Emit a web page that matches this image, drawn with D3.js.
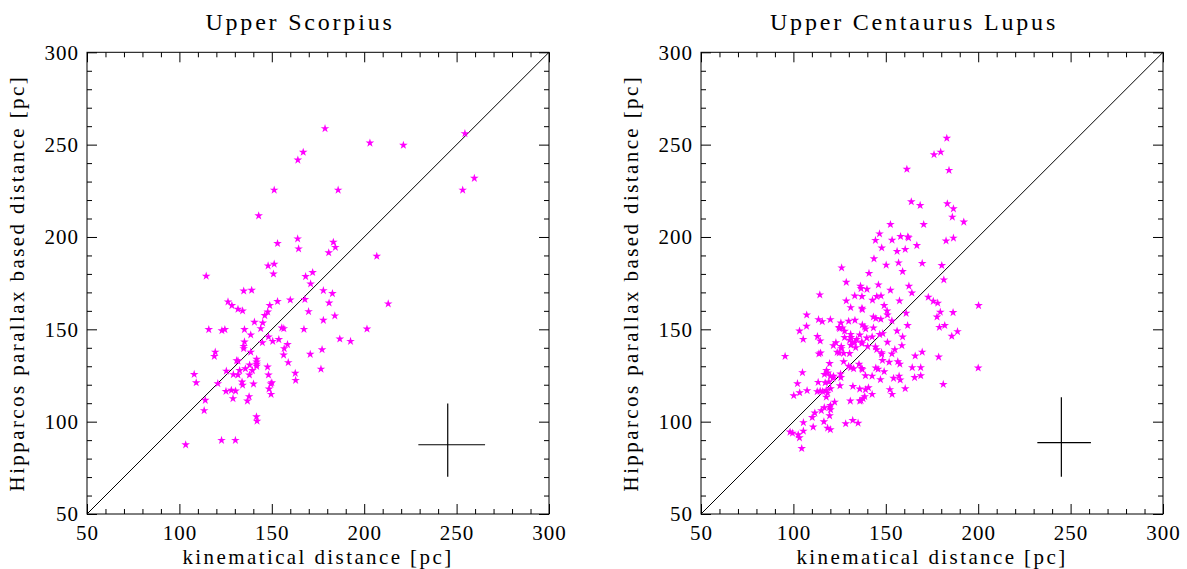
<!DOCTYPE html>
<html>
<head>
<meta charset="utf-8">
<script src="https://cdn.jsdelivr.net/npm/d3@7"></script>
<style>
  body { margin: 0; background: #fff; }
  svg { display: block; }
  text { font-family: "Liberation Serif", "DejaVu Serif", serif; fill: #000; }
</style>
</head>
<body>
<svg id="chart" width="1187" height="569"></svg>
<script>
// Upper Scorpius: kinematical vs Hipparcos distance (pc)
const usKin = [
  167.0, 164.1, 151.3, 142.9, 164.0, 153.1, 164.5, 148.0, 151.3, 150.9,
  114.5, 168.3, 172.1, 171.0, 134.8, 139.1, 126.3, 128.4, 131.7, 134.2,
  148.9, 153.1, 160.0, 167.9, 169.9, 147.8, 146.2, 140.6, 145.1, 144.0,
  155.4, 156.5, 167.4, 115.9, 123.0, 124.6, 135.2, 138.6, 148.2, 153.8,
  150.5, 144.9, 135.2, 158.5, 156.7, 134.8, 134.8, 138.6, 156.4, 170.8,
  119.4, 118.9, 131.0, 131.7, 141.8, 141.8, 141.8, 141.8, 158.9, 135.7,
  138.0, 132.6, 139.5, 125.4, 147.7, 162.7, 129.2, 131.7, 137.9, 148.2,
  108.0, 109.1, 162.9, 150.0, 149.5, 133.9, 134.2, 140.1, 120.8, 148.5,
  125.2, 128.1, 130.4, 149.6, 137.7, 129.0, 136.8, 114.0, 113.4, 141.7,
  142.0, 122.8, 130.3, 103.4, 178.8, 203.1, 221.2, 254.5, 259.6, 253.3,
  185.9, 183.3, 184.4, 180.8, 206.8, 177.9, 182.8, 181.0, 213.0, 177.9,
  184.1, 201.5, 186.8, 192.6, 177.2, 176.6
];
const usHip = [
  245.9, 241.7, 225.4, 211.5, 199.0, 196.5, 193.6, 184.4, 185.3, 180.0,
  178.8, 178.6, 180.8, 174.6, 170.8, 171.2, 164.9, 162.9, 160.9, 160.0,
  162.9, 165.1, 165.9, 166.2, 159.6, 159.4, 157.5, 153.9, 153.5, 150.4,
  150.8, 150.4, 150.0, 149.9, 149.3, 149.9, 149.9, 147.0, 145.9, 144.5,
  143.5, 142.8, 143.2, 141.8, 139.6, 140.8, 139.6, 137.7, 136.1, 136.5,
  137.7, 135.4, 133.1, 132.9, 133.8, 132.3, 131.1, 130.0, 132.0, 128.7,
  130.7, 127.7, 127.7, 127.4, 129.6, 126.2, 125.5, 125.3, 125.3, 125.3,
  125.6, 121.1, 122.4, 121.1, 120.4, 121.5, 119.8, 120.4, 120.6, 117.7,
  116.4, 117.0, 116.6, 114.8, 113.6, 112.5, 111.2, 111.6, 106.0, 102.7,
  100.3, 89.9, 89.9, 87.5, 258.7, 250.9, 249.7, 256.0, 231.8, 225.4,
  225.4, 197.2, 194.4, 191.5, 189.6, 171.0, 169.4, 164.3, 163.8, 154.9,
  157.3, 150.2, 144.8, 143.5, 139.0, 128.5
];

// Upper Centaurus Lupus
const uclKin = [
  183.0, 176.1, 179.7, 161.4, 184.2, 163.8, 168.6, 183.3, 186.6, 186.0,
  192.2, 152.5, 170.5, 146.6, 144.4, 153.4, 158.0, 161.9, 162.3, 147.8,
  156.1, 160.5, 166.8, 182.6, 186.6, 143.6, 150.2, 156.9, 169.7, 180.3,
  126.1, 159.1, 140.9, 181.4, 128.6, 136.3, 136.6, 139.8, 146.0, 162.5,
  152.5, 164.1, 114.3, 133.2, 137.1, 145.1, 147.4, 142.8, 128.6, 157.4,
  173.0, 175.7, 178.1, 200.2, 149.1, 131.0, 137.1, 137.3, 150.7, 150.9,
  161.0, 179.5, 186.4, 177.7, 107.2, 143.3, 144.6, 147.3, 153.3, 113.6,
  115.6, 120.0, 125.7, 129.9, 133.3, 107.1, 124.6, 125.0, 126.5, 137.3,
  138.6, 139.1, 143.3, 161.8, 179.0, 181.9, 188.8, 185.7, 103.3, 131.0,
  131.1, 127.7, 135.9, 156.1, 113.0, 127.7, 139.7, 142.6, 146.7, 148.4,
  159.1, 105.3, 114.5, 123.0, 130.4, 131.9, 133.2, 134.2, 137.0, 150.9,
  121.6, 125.9, 125.9, 131.1, 133.7, 137.1, 140.2, 144.4, 145.1, 158.7,
  154.9, 123.7, 124.8, 127.2, 130.4, 113.8, 114.7, 95.5, 147.7, 147.8,
  153.3, 169.7, 165.9, 178.6, 148.2, 151.8, 156.5, 157.6, 127.2, 119.6,
  135.5, 129.9, 131.0, 132.6, 137.0, 137.3, 144.6, 145.8, 149.1, 164.3,
  168.9, 200.0, 104.9, 117.9, 118.6, 116.8, 120.0, 121.4, 121.7, 125.5,
  125.7, 139.0, 142.6, 147.1, 154.2, 157.2, 157.8, 165.6, 168.9, 102.2,
  113.4, 117.2, 119.2, 120.1, 107.4, 103.4, 100.2, 112.9, 114.5, 115.8,
  117.8, 118.5, 125.2, 132.2, 135.9, 139.0, 140.6, 142.6, 152.2, 153.4,
  160.5, 181.1, 117.8, 138.6, 137.7, 136.6, 135.9, 122.3, 130.8, 116.7,
  119.6, 120.1, 120.1, 111.6, 115.1, 110.2, 119.6, 105.4, 116.5, 132.1,
  128.3, 135.0, 110.7, 118.5, 120.0, 105.4, 98.2, 99.5, 102.6, 103.3,
  104.5
];
const uclHip = [
  253.5, 244.6, 246.0, 236.7, 236.1, 219.1, 217.1, 218.0, 215.3, 210.8,
  208.1, 206.8, 206.8, 201.7, 198.2, 198.3, 200.3, 200.1, 199.6, 194.1,
  192.2, 193.3, 195.4, 197.9, 199.4, 188.2, 184.8, 186.0, 185.7, 184.6,
  183.3, 181.3, 180.3, 176.8, 175.5, 173.4, 172.1, 171.7, 174.1, 173.4,
  171.2, 169.7, 168.7, 168.1, 167.8, 167.8, 168.1, 165.8, 165.4, 165.4,
  167.4, 165.2, 164.2, 162.9, 162.9, 161.8, 161.4, 160.7, 160.0, 157.8,
  158.7, 159.3, 159.1, 156.7, 157.8, 156.7, 155.9, 155.5, 154.6, 155.3,
  154.2, 155.3, 153.5, 154.4, 154.9, 151.7, 151.1, 150.4, 150.8, 152.4,
  151.3, 150.2, 150.8, 152.1, 151.1, 152.1, 148.8, 146.3, 149.1, 147.3,
  145.6, 149.0, 147.0, 149.1, 146.1, 145.6, 145.3, 145.9, 147.2, 147.7,
  145.9, 144.6, 143.7, 142.8, 144.1, 143.0, 142.8, 144.5, 143.2, 143.0,
  141.2, 140.7, 139.6, 141.4, 140.1, 142.3, 140.7, 140.5, 139.0, 141.2,
  139.0, 137.6, 137.2, 137.0, 136.9, 136.7, 137.2, 135.4, 137.4, 136.5,
  136.7, 137.7, 135.6, 135.0, 133.2, 132.2, 132.5, 131.2, 132.5, 131.5,
  131.1, 130.0, 129.3, 128.7, 128.9, 128.2, 129.1, 128.4, 127.1, 129.3,
  129.3, 129.1, 126.6, 127.7, 126.4, 125.6, 124.6, 123.6, 124.6, 125.8,
  123.9, 124.9, 124.7, 122.8, 123.5, 124.7, 122.6, 123.9, 124.9, 120.6,
  121.3, 121.1, 121.5, 117.9, 116.8, 115.7, 114.1, 116.3, 116.6, 116.3,
  117.0, 115.5, 119.5, 119.1, 117.7, 117.4, 118.4, 114.8, 117.4, 114.8,
  117.9, 120.2, 113.3, 113.6, 112.5, 111.4, 111.2, 110.6, 111.2, 107.6,
  107.8, 106.5, 108.8, 104.7, 106.0, 102.3, 103.2, 99.5, 100.0, 100.7,
  98.9, 99.2, 97.1, 96.5, 95.7, 94.9, 94.4, 93.8, 92.9, 91.3,
  85.5
];

// typical error bars: [centre x, x low, x high, centre y, y low, y high]
const usErr  = [245.2, 229.3, 265.4, 87.5, 70.2, 109.9];
const uclErr = [245.0, 232.0, 261.0, 88.6, 70.2, 113.2];

const titles = ['Upper Scorpius', 'Upper Centaurus Lupus'];
const majorTicks = [50, 100, 150, 200, 250, 300];
const domain = [50, 300];

const svg = d3.select('#chart');
const W = 462, H = 461.7, TOP = 52.3;
const panels = [
  { left: 87,  title: titles[0], xs: usKin,  ys: usHip,  err: usErr },
  { left: 701, title: titles[1], xs: uclKin, ys: uclHip, err: uclErr },
];

const minorTicks = d3.range(50, 301, 10).filter(v => v % 50 !== 0);
const star = d3.symbol().type(d3.symbolStar).size(23);

for (const p of panels) {
  const g = svg.append('g').attr('transform', `translate(${p.left},${TOP})`);
  const x = d3.scaleLinear().domain(domain).range([0, W]);
  const y = d3.scaleLinear().domain(domain).range([H, 0]);

  // ticks on all four sides, pointing inwards
  const sides = [
    [d3.axisBottom(x), `translate(0,${H})`, true, 11],
    [d3.axisTop(x), 'translate(0,0)', false, 0],
    [d3.axisLeft(y), 'translate(0,0)', true, 8],
    [d3.axisRight(y), `translate(${W},0)`, false, 0],
  ];
  for (const [ax, tr, labelled, pad] of sides) {
    const minor = g.append('g').attr('transform', tr)
      .call(ax.tickValues(minorTicks).tickSize(-5).tickSizeOuter(0).tickFormat(''));
    minor.select('.domain').remove();
    const major = g.append('g').attr('transform', tr)
      .call(ax.tickValues(majorTicks).tickSize(-10).tickSizeOuter(0)
        .tickPadding(pad).tickFormat(labelled ? d3.format('d') : ''));
    major.select('.domain').remove();
    major.selectAll('text').attr('font-size', 21).attr('letter-spacing', 1)
      .attr('font-family', '"Liberation Serif", serif');
    g.selectAll('.tick line').attr('stroke', '#000').attr('stroke-width', 1);
  }

  // frame
  g.append('rect').attr('width', W).attr('height', H)
    .attr('fill', 'none').attr('stroke', '#000').attr('stroke-width', 1);

  // one-to-one line
  g.append('line')
    .attr('x1', x(50)).attr('y1', y(50)).attr('x2', x(300)).attr('y2', y(300))
    .attr('stroke', '#000').attr('stroke-width', 1);

  // error cross
  const [ex, ex0, ex1, ey, ey0, ey1] = p.err;
  g.append('line').attr('x1', x(ex0)).attr('x2', x(ex1)).attr('y1', y(ey)).attr('y2', y(ey))
    .attr('stroke', '#000').attr('stroke-width', 1.2);
  g.append('line').attr('x1', x(ex)).attr('x2', x(ex)).attr('y1', y(ey0)).attr('y2', y(ey1))
    .attr('stroke', '#000').attr('stroke-width', 1.2);

  // stars
  g.append('g').selectAll('path')
    .data(p.xs.map((v, i) => [v, p.ys[i]]))
    .join('path')
    .attr('d', star)
    .attr('transform', d => `translate(${x(d[0])},${y(d[1])})`)
    .attr('fill', '#ff00ff');

  g.append('text')
    .attr('x', W / 2 - 18).attr('y', -22)
    .attr('text-anchor', 'middle').attr('font-size', 24)
    .attr('letter-spacing', 2.8)
    .text(p.title);

  g.append('text')
    .attr('x', W / 2).attr('y', H + 50)
    .attr('text-anchor', 'middle').attr('font-size', 21)
    .attr('letter-spacing', 2.4)
    .text('kinematical distance [pc]');

  g.append('text')
    .attr('transform', `translate(-63,${H / 2}) rotate(-90)`)
    .attr('text-anchor', 'middle').attr('font-size', 21)
    .attr('letter-spacing', 2.4)
    .text('Hipparcos parallax based distance [pc]');
}
</script>
</body>
</html>
